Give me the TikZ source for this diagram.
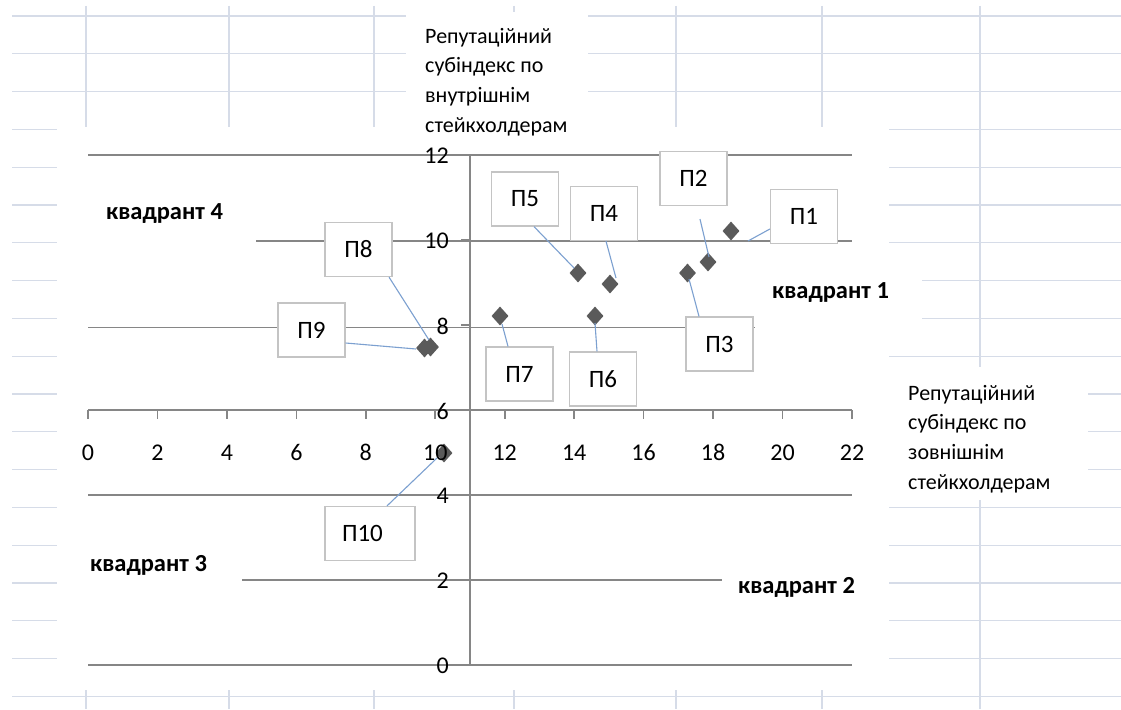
\documentclass[tikz,border=0pt]{standalone}
\usepackage{fontspec}
\setmainfont{Carlito}
\usetikzlibrary{calc,shapes.geometric}
\definecolor{sheetc}{RGB}{214,220,232}
\definecolor{gridc}{RGB}{134,134,134}
\definecolor{leadc}{RGB}{124,160,208}
\definecolor{boxc}{RGB}{196,196,196}
\definecolor{ptc}{RGB}{90,90,90}
\tikzset{
  sheet/.style={draw=sheetc, line width=1.2pt},
  gridln/.style={draw=gridc, line width=1.6pt},
  leader/.style={draw=leadc, line width=1.1pt},
  lbl/.style={draw=boxc, fill=white, line width=1.2pt, minimum width=67pt, minimum height=54pt, inner sep=0pt, font=\fontsize{25}{29}\selectfont},
  quad/.style={anchor=west, inner sep=0pt, font=\bfseries\fontsize{24.5}{28}\selectfont},
  ticklbl/.style={inner sep=0pt, font=\fontsize{24}{28}\selectfont},
  axtitle/.style={anchor=north west, align=left, inner sep=0pt, font=\fontsize{22}{29.6}\selectfont},
  pt/.style={diamond, fill=ptc, inner sep=0pt, minimum width=17pt, minimum height=19pt}
}
\begin{document}
\begin{tikzpicture}[x=1pt,y=-1pt]
\useasboundingbox (0,0) rectangle (1121,709);
\fill[white] (0,0) rectangle (1121,709);
% spreadsheet grid
\foreach \i in {0,...,18} {\draw[sheet] (12,16+37.8*\i) -- (1121,16+37.8*\i);}
\foreach \x in {86,229,374,514,676,822,980} {\draw[sheet] (\x,6) -- (\x,709);}
% white areas of chart and text boxes
\fill[white] (57,127) rectangle (889,690);
\fill[white] (406,12) rectangle (588,127);
\fill[white] (889,367) rectangle (1088,500);
\fill[white] (889,272) rectangle (922,335);
% chart gridlines
\draw[gridln] (88,155) -- (852,155);
\draw[gridln] (256,241) -- (852,241);
\draw[gridln] (88,327.5) -- (755,327.5);
\draw[gridln] (88,495) -- (852,495);
\draw[gridln] (242,580) -- (722,580);
\draw[gridln] (88,665) -- (852,665);
% axes
\draw[gridln] (88,410) -- (852,410);
\foreach \k in {0,2,...,22} {\draw[gridln] (88+34.727*\k,410) -- (88+34.727*\k,419);}
\draw[gridln] (470,155) -- (470,665);
\foreach \v in {0,2,...,12} {\draw[gridln] (461,665-42.5*\v) -- (470,665-42.5*\v);}
% data points
\node[pt] (p1) at (731,231) {};
\node[pt] (p2) at (708,262) {};
\node[pt] (p3) at (687.5,273) {};
\node[pt] (p4) at (610,284) {};
\node[pt] (p5) at (578,273) {};
\node[pt] (p6) at (595,316) {};
\node[pt] (p7) at (500,316) {};
\node[pt] (p8) at (424.5,348) {};
\node[pt] (p9) at (430.5,347) {};
\node[pt] (p10) at (444,453) {};
% tick labels
\foreach \k in {0,2,...,22} {\node[ticklbl] (xl\k) at (88+34.727*\k,452.5) {\k};}
\foreach \v in {0,2,...,12} {\node[ticklbl, anchor=east] (yl\v) at (449,666-42.5*\v) {\v};}
% axis titles
\node[axtitle] (ytitle) at (425,28) {Репутаційний\\субіндекс по\\внутрішнім\\стейкхолдерам};
\node[axtitle] (xtitle) at (908,385) {Репутаційний\\субіндекс по\\зовнішнім\\стейкхолдерам};
% quadrant labels
\node[quad] (q4) at (106,214) {квадрант 4};
\node[quad] (q1) at (772,293) {квадрант 1};
\node[quad] (q3) at (90,565) {квадрант 3};
\node[quad] (q2) at (738,587) {квадрант 2};
% data label boxes
\node[lbl] (b1) at (804,216.5) {П1};
\node[lbl] (b2) at (693.5,178.5) {П2};
\node[lbl] (b3) at (719.5,344) {П3};
\node[lbl] (b4) at (604,213.5) {П4};
\node[lbl] (b5) at (525,199) {П5};
\node[lbl] (b6) at (603,379) {П6};
\node[lbl] (b7) at (519.5,374) {П7};
\node[lbl] (b8) at (358.5,249.5) {П8};
\node[lbl] (b9) at (311.5,330) {П9};
\node[lbl, minimum width=90pt, text width=56pt, inner xsep=17pt, align=left] (b10) at (370,533.5) {П10};
% leader ends near points
\coordinate (e1) at (748,241);
\coordinate (e2) at (709,257);
\coordinate (e3) at (689,279);
\coordinate (e4) at (616,278);
\coordinate (e5) at (574,268);
\coordinate (e6) at (595,323);
\coordinate (e7) at (502,324);
\coordinate (e8) at (429,340);
\coordinate (e9) at (416,349);
\coordinate (e10) at (437,458);
\draw[leader] ($(b1.west)+(0,12.5)$) -- (e1);
\draw[leader] ($(b2.south)+(6.5,13)$) -- (e2);
\draw[leader] ($(b3.north)+(-20.5,0)$) -- (e3);
\draw[leader] ($(b4.south)+(2,0)$) -- (e4);
\draw[leader] ($(b5.south)+(9,0)$) -- (e5);
\draw[leader] ($(b6.north)+(-6,0)$) -- (e6);
\draw[leader] ($(b7.north)+(-11.5,0)$) -- (e7);
\draw[leader] ($(b8.south)+(30.5,0)$) -- (e8);
\draw[leader] ($(b9.east)+(0,13)$) -- (e9);
\draw[leader] ($(b10.north)+(17,0)$) -- (e10);
\end{tikzpicture}
\end{document}
